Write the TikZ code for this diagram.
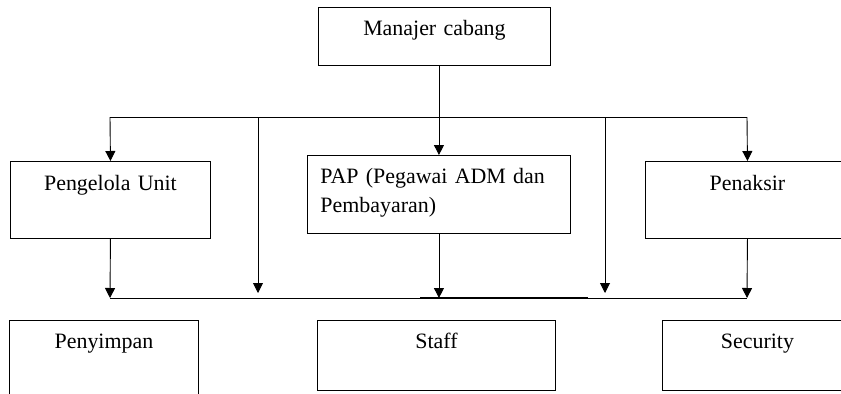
\documentclass[tikz,border=0pt]{standalone}
\usepackage{fontspec}
\setmainfont{Liberation Serif}
\usetikzlibrary{arrows.meta}
\tikzset{
	unitbox/.style={draw, rectangle, anchor=north west, inner xsep=0bp, inner ysep=0bp, align=center, font=\fontsize{22}{29}\selectfont},
	feed/.style={-{Triangle[length=10bp,width=10bp]}},
}

\begin{document}
\begin{tikzpicture}[x=1bp, y=-1bp, line width=0.9bp]
			%%%%% START %%%%%
			\fill[white] (0,0) rectangle (841,393);
			\useasboundingbox (0,0) rectangle (841,393);
			
			\node[unitbox, text width=232bp, text height=28bp, text depth=30bp] (mgr) at (318, 7) {Manajer cabang};
			
			\node[unitbox, text width=200bp, text height=29bp, text depth=48bp] (pengelola) at (10, 161) {Pengelola Unit};
			\node[unitbox, align=left, inner xsep=13bp, text width=237bp, text height=28bp, text depth=50bp] (pap) at (307, 155) {PAP (Pegawai ADM dan\\Pembayaran)};
			\node[unitbox, text width=204bp, text height=29bp, text depth=48bp] (penaksir) at (645, 161) {Penaksir};
			
			\node[unitbox, text width=189bp, text height=28bp, text depth=60bp] (penyimpan) at (9, 320) {Penyimpan};
			\node[unitbox, text width=238bp, text height=28bp, text depth=42bp] (staff) at (317, 320) {Staff};
			\node[unitbox, text width=190bp, text height=28bp, text depth=42bp] (security) at (662, 320) {Security};
			
			% upper bus
			\coordinate (busTL) at (110, 117);
			\coordinate (busTR) at (747, 117);
			\coordinate (dropL) at (258, 117);
			\coordinate (dropR) at (605, 117);
			\draw (busTL) -- (busTR);
			
			% lower bus
			\coordinate (busBL) at (110, 298);
			\coordinate (busBR) at (747, 298);
			\coordinate (thickL) at (420, 298);
			\coordinate (thickR) at (588, 298);
			\draw (busBL) -- (busBR);
			\draw[line width=2bp] (thickL) -- (thickR);
			
			\draw[feed] (pap.north |- mgr.south) -- (pap.north);
			\draw[feed] (busTL) -- (pengelola.north);
			\draw[feed] (busTR) -- (penaksir.north);
			
			\draw[feed] (dropL) -- ++(0, 176);
			\draw[feed] (dropR) -- ++(0, 176);
			
			\draw[feed] (pengelola.south) -- (busBL);
			\draw[feed] (pap.south) -- (pap.south |- busBL);
			\draw[feed] (penaksir.south) -- (busBR);
			
			%%%%% END %%%%%
\end{tikzpicture}
\end{document}
